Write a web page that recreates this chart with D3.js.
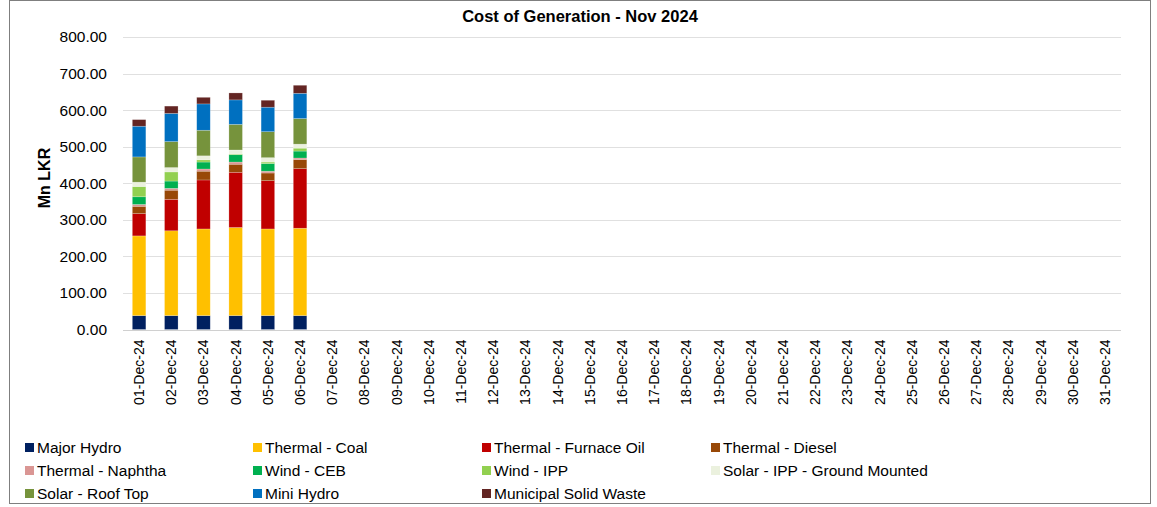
<!DOCTYPE html>
<html>
<head>
<meta charset="utf-8">
<script src="https://cdn.jsdelivr.net/npm/d3@7"></script>
<style>
  body { margin: 0; background: #fff; }
  svg text { font-family: "Liberation Sans", Arial, sans-serif; fill: #000; }
</style>
</head>
<body>
<div id="chart"></div>
<script>
// Dates on the category axis (only the first six days have values)
var dates = ["01-Dec-24","02-Dec-24","03-Dec-24","04-Dec-24","05-Dec-24","06-Dec-24",
    "07-Dec-24","08-Dec-24","09-Dec-24","10-Dec-24","11-Dec-24","12-Dec-24","13-Dec-24",
    "14-Dec-24","15-Dec-24","16-Dec-24","17-Dec-24","18-Dec-24","19-Dec-24","20-Dec-24",
    "21-Dec-24","22-Dec-24","23-Dec-24","24-Dec-24","25-Dec-24","26-Dec-24","27-Dec-24",
    "28-Dec-24","29-Dec-24","30-Dec-24","31-Dec-24"];

// Mn LKR per day, one array per source
var majorHydro   = [38, 38, 38, 38, 38, 38];
var thermalCoal  = [218, 232, 237, 241, 237, 239];
var furnaceOil   = [61, 86, 134, 151, 132, 163];
var diesel       = [20, 25, 24, 22, 21, 25];
var naphtha      = [5, 5, 6, 6, 5, 4];
var windCEB      = [21, 20, 19, 20, 21, 19];
var windIPP      = [28, 25, 6, 2, 4, 8];
var solarIPP     = [12, 12, 11, 11, 12, 11];
var solarRoof    = [69, 71, 70, 70, 71, 70];
var miniHydro    = [84, 77, 72, 67, 67, 69];
var msw          = [18, 20, 18, 19, 19, 22];

var seriesNames = ["Major Hydro", "Thermal - Coal", "Thermal - Furnace Oil", "Thermal - Diesel",
    "Thermal - Naphtha", "Wind - CEB", "Wind - IPP", "Solar - IPP - Ground Mounted",
    "Solar - Roof Top", "Mini Hydro", "Municipal Solid Waste"];
var seriesValues = [majorHydro, thermalCoal, furnaceOil, diesel, naphtha, windCEB,
    windIPP, solarIPP, solarRoof, miniHydro, msw];
var seriesColors = ["#002060", "#FFC000", "#C00000", "#984807", "#DA9694", "#00B050",
    "#92D050", "#EBF1DE", "#76933C", "#0070C0", "#632523"];

var yTicks = [0, 100, 200, 300, 400, 500, 600, 700, 800];

var W = 1157, H = 507;
var margin = { top: 37, right: 36, bottom: 177, left: 123 };

var svg = d3.select("#chart").append("svg")
    .attr("width", W)
    .attr("height", H);

// outer frame
svg.append("rect")
    .attr("x", 9.5).attr("y", 0.5)
    .attr("width", 1141).attr("height", 503)
    .attr("fill", "none")
    .attr("stroke", "#7f7f7f")
    .attr("stroke-width", 1);

var g = svg.append("g")
    .attr("transform", "translate(" + margin.left + "," + margin.top + ")");

var width = W - margin.left - margin.right;
var height = 329.5 - margin.top;

var x = d3.scaleBand()
    .domain(dates)
    .range([0, width])
    .paddingInner(0.58)
    .paddingOuter(0.29);

var y = d3.scaleLinear()
    .domain([0, 800])
    .range([height, 0]);

// gridlines
g.selectAll(".grid")
    .data(yTicks)
    .enter().append("line")
    .attr("class", "grid")
    .attr("x1", 0).attr("x2", width)
    .attr("y1", function(d){ return Math.round(y(d)) + 0.5; })
    .attr("y2", function(d){ return Math.round(y(d)) + 0.5; })
    .attr("stroke", function(d){ return d === 0 ? "#d0d0d0" : "#e0e0e0"; })
    .attr("stroke-width", 1);

// y axis labels
var yAxis = d3.axisLeft(y).tickValues(yTicks).tickFormat(d3.format(".2f")).tickSize(0).tickPadding(16);
var yg = g.append("g").call(yAxis);
yg.select(".domain").remove();
yg.selectAll("text").style("font-size", "15.5px").style("font-family", "Liberation Sans, Arial, sans-serif");

// stacked data
var table = dates.slice(0, majorHydro.length).map(function(d, i){
    var row = { date: d };
    seriesNames.forEach(function(n, k){ row[n] = seriesValues[k][i]; });
    return row;
});
var stack = d3.stack().keys(seriesNames)(table);

var layers = g.selectAll(".layer")
    .data(stack)
    .enter().append("g")
    .attr("class", "layer")
    .attr("fill", function(d, i){ return seriesColors[i]; });

layers.selectAll("rect")
    .data(function(d){ return d; })
    .enter().append("rect")
    .attr("x", function(d){ return x(d.data.date); })
    .attr("width", x.bandwidth())
    .attr("y", function(d){ return y(d[1]); })
    .attr("height", function(d){ return y(d[0]) - y(d[1]); })
    .attr("stroke", "#ffffff")
    .attr("stroke-opacity", 0.35)
    .attr("stroke-width", 0.6);

// x axis labels (rotated)
var xg = g.append("g")
    .attr("transform", "translate(0," + height + ")");
xg.selectAll("text")
    .data(dates)
    .enter().append("text")
    .attr("transform", function(d){
        return "translate(" + (x(d) + x.bandwidth() / 2 + 5) + ",10) rotate(-90)";
    })
    .attr("text-anchor", "end")
    .style("font-size", "14px")
    .text(function(d){ return d; });

// title
svg.append("text")
    .attr("x", 580)
    .attr("y", 22)
    .attr("text-anchor", "middle")
    .style("font-size", "16.5px")
    .style("font-weight", "bold")
    .text("Cost of Generation - Nov 2024");

// y axis title
svg.append("text")
    .attr("transform", "translate(50,178) rotate(-90)")
    .attr("text-anchor", "middle")
    .style("font-size", "16px")
    .style("font-weight", "bold")
    .text("Mn LKR");

// legend
var legendCols = [25, 253, 482, 711];
var legendRows = [448, 471, 494];
var legend = svg.selectAll(".legend")
    .data(seriesNames)
    .enter().append("g")
    .attr("class", "legend")
    .attr("transform", function(d, i){
        return "translate(" + legendCols[i % 4] + "," + legendRows[Math.floor(i / 4)] + ")";
    });

legend.append("rect")
    .attr("x", 0).attr("y", -5)
    .attr("width", 9).attr("height", 9)
    .attr("fill", function(d, i){ return seriesColors[i]; });

legend.append("text")
    .attr("x", 12)
    .attr("dy", "0.35em")
    .style("font-size", "15.5px")
    .text(function(d){ return d; });
</script>
</body>
</html>
